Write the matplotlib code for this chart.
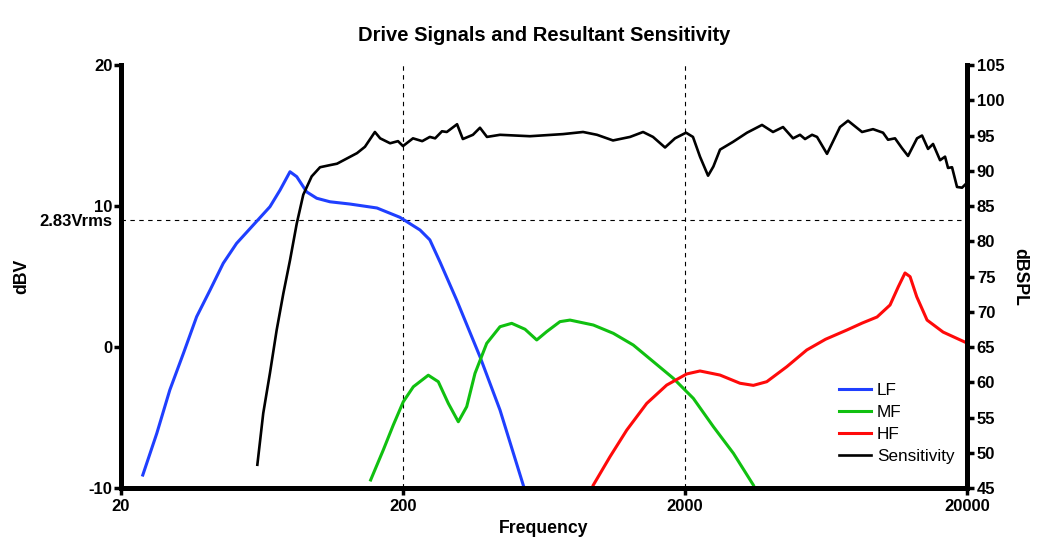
import numpy as np
import matplotlib
matplotlib.use('Agg')
import matplotlib.pyplot as plt
from matplotlib.ticker import FixedLocator, FixedFormatter, NullLocator

plt.rcParams['font.family'] = ['Liberation Sans', 'DejaVu Sans']
plt.rcParams['axes.unicode_minus'] = False

# drive signals (dBV, left axis)
lf_freq = [23.9, 26.8, 29.8, 33.3, 37.1, 41.4, 46.1, 51.4, 58.9, 67.5, 73.3, 79.5, 84.0,
           91.1, 98.9, 110.2, 129.7, 161.7, 195, 229.8, 249, 271, 310, 375, 441.6, 534]
lf_dbv = [-9.08, -6.12, -3.05, -0.45, 2.15, 4.04, 5.94, 7.35, 8.65, 9.95, 11.13, 12.43,
          12.08, 11.0, 10.55, 10.3, 10.14, 9.86, 9.2, 8.3, 7.6, 6.0, 3.33, -0.69, -4.47, -9.8]

mf_freq = [153.6, 170.3, 184.8, 200.5, 217.6, 245.9, 266.8, 289.6, 314.2, 336.5, 360,
           396.2, 441.6, 485.8, 541.6, 596, 646.4, 720.6, 782, 946, 1114, 1311, 1544,
           1818, 2140, 2521, 2969, 3494]
mf_dbv = [-9.43, -7.3, -5.53, -3.88, -2.82, -2.0, -2.46, -4.0, -5.3, -4.23, -1.87, 0.26,
          1.44, 1.68, 1.26, 0.5, 1.09, 1.8, 1.91, 1.56, 0.97, 0.14, -1.04, -2.22, -3.64,
          -5.65, -7.54, -9.79]

hf_freq = [946, 1084, 1243, 1463, 1722, 2028, 2260, 2662, 3133, 3494, 3898, 4589, 5404,
           6300, 7508, 8500, 9594, 10666, 11414, 12052, 12560, 13260, 14430, 16444, 20000]
hf_dbv = [-9.79, -7.78, -5.89, -4.0, -2.7, -1.91, -1.70, -1.99, -2.57, -2.72, -2.46, -1.4,
          -0.21, 0.55, 1.21, 1.7, 2.13, 2.98, 4.28, 5.25, 4.99, 3.57, 1.91, 1.06, 0.28]

# resultant sensitivity (dBSPL, right axis)
sens_freq = [60.9, 63.9, 67.5, 71.3, 75.3, 79.5, 84.0, 88.6, 94.9, 101.6, 110.2, 116.7,
             137.4, 146.6, 159, 166, 180, 192, 200, 217, 234, 249, 260, 275, 286, 311, 326,
             354, 375, 397, 441.6, 564, 739, 870, 975, 1111, 1277, 1420, 1540, 1699, 1843,
             2016, 2134, 2260, 2414, 2521, 2662, 2960, 3318, 3750, 4102, 4452, 4831, 5114,
             5328, 5643, 5876, 6375, 7088, 7568, 8486, 9283, 10072, 10492, 11108, 11762,
             12354, 13296, 13850, 14546, 15152, 16044, 16712, 17124, 17692, 18428, 19200,
             20000]
sens_spl = [48.3, 55.6, 61.3, 67.4, 72.6, 77.3, 82.5, 86.6, 89.2, 90.5, 90.8, 91.0, 92.5,
            93.4, 95.5, 94.6, 93.9, 94.2, 93.5, 94.6, 94.2, 94.8, 94.6, 95.6, 95.5, 96.6,
            94.5, 95.1, 96.1, 94.8, 95.1, 94.9, 95.2, 95.5, 95.1, 94.3, 94.8, 95.5, 94.8,
            93.3, 94.6, 95.4, 94.8, 92.0, 89.3, 90.6, 93.0, 94.1, 95.4, 96.5, 95.5, 96.2,
            94.6, 95.1, 94.5, 95.1, 94.8, 92.4, 96.2, 97.1, 95.5, 95.9, 95.4, 94.4, 94.6,
            93.2, 92.1, 94.6, 95.0, 93.1, 93.8, 91.5, 92.0, 90.4, 90.5, 87.7, 87.6, 88.3]

x_ticks = [20, 200, 2000, 20000]
y_ticks = [-10, 0, 10, 20]
spl_ticks = list(range(45, 106, 5))
ref_level = 20 * np.log10(2.83)

fig = plt.figure(figsize=(10.5, 5.5), dpi=100)
ax = fig.add_axes([0.1152, 0.1127, 0.8058, 0.7691])
ax2 = ax.twinx()

ax.set_xscale('log')
ax.set_xlim(20, 20000)
ax.set_ylim(-10, 20)
ax2.set_ylim(45, 105)

ax.axhline(ref_level, color='black', ls=(0, (4, 4)), lw=0.8, zorder=1)
for f in [200, 2000]:
    ax.axvline(f, color='black', ls=(0, (4, 4)), lw=0.8, zorder=1)

l1, = ax.plot(lf_freq, lf_dbv, color='#1f3fff', lw=2.2, label='LF')
l2, = ax.plot(mf_freq, mf_dbv, color='#10c010', lw=2.2, label='MF')
l3, = ax.plot(hf_freq, hf_dbv, color='#ff0a0a', lw=2.2, label='HF')
l4, = ax2.plot(sens_freq, sens_spl, color='black', lw=1.9, label='Sensitivity')

ax.xaxis.set_major_locator(FixedLocator(x_ticks))
ax.xaxis.set_major_formatter(FixedFormatter([str(v) for v in x_ticks]))
ax.xaxis.set_minor_locator(NullLocator())
ax.yaxis.set_major_locator(FixedLocator(y_ticks))
ax.yaxis.set_minor_locator(FixedLocator([ref_level]))
ax.yaxis.set_minor_formatter(FixedFormatter(['2.83Vrms']))
ax2.yaxis.set_major_locator(FixedLocator(spl_ticks))

for a in (ax, ax2):
    a.spines['top'].set_visible(False)
    for s in ('left', 'right', 'bottom'):
        a.spines[s].set_linewidth(3.6)
ax.tick_params(axis='x', which='major', length=5, width=2.5, labelsize=12, pad=3)
ax.tick_params(axis='y', which='major', length=5, width=2.5, labelsize=12, pad=1)
ax.tick_params(axis='y', which='minor', length=0, labelsize=12, pad=6)
ax2.tick_params(which='major', length=5, width=2.5, labelsize=12, pad=2)
for lab in ax.get_xticklabels() + ax.get_yticklabels() + ax.get_yticklabels(minor=True) + ax2.get_yticklabels():
    lab.set_fontweight('bold')

ax.set_xlabel('Frequency', fontsize=12.7, fontweight='bold', labelpad=4)
ax.set_ylabel('dBV', fontsize=12.7, fontweight='bold')
ax.yaxis.set_label_coords(-0.107, 0.5)
ax2.set_ylabel('dBSPL', fontsize=12.7, fontweight='bold', rotation=270, labelpad=17)
ax.set_title('Drive Signals and Resultant Sensitivity', fontsize=14.5, fontweight='bold', pad=17)

ax2.legend(handles=[l1, l2, l3, l4], loc='lower left', bbox_to_anchor=(0.83, 0.02),
           frameon=False, fontsize=12.3, handlelength=1.9, handletextpad=0.35,
           labelspacing=0.42)

fig.savefig('out.png', dpi=100)
